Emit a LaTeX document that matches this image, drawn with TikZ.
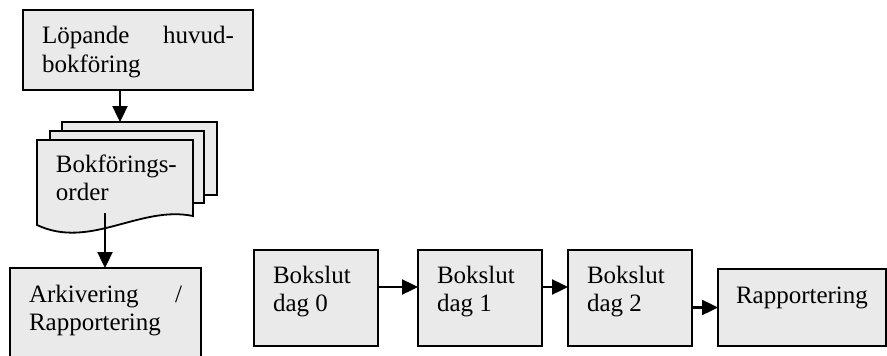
\documentclass[tikz,border=0pt]{standalone}
\usepackage{fontspec}
\setmainfont{Liberation Serif}
\usetikzlibrary{arrows.meta}
\definecolor{boxfill}{RGB}{234,234,234}
\newcommand{\bxt}[4]{\parbox[c][#1][t]{#2}{\vspace*{#3}\strut #4}}
\tikzset{
  bigfont/.style={font=\fontsize{25pt}{28.75pt}\selectfont},
  box/.style={draw=black, fill=boxfill, line width=1.8pt, anchor=north west,
    inner xsep=19pt, inner ysep=0pt, outer sep=0pt, bigfont},
  sheet/.style={draw=black, fill=boxfill, line width=1.8pt, anchor=north west,
    inner sep=0pt, outer sep=0pt},
  txt/.style={anchor=base west, inner sep=0pt, outer sep=0pt, bigfont},
  arr/.style={line width=2.4pt, -{Triangle[length=16pt,width=15pt]}},
}
\begin{document}
\begin{tikzpicture}[x=1pt,y=-1pt]
\useasboundingbox (0,0) rectangle (887,356);
% top box
\node[box] (lop) at (23,10) {\bxt{80pt}{192pt}{13.4pt}{Löpande\hfill huvud-\\bokföring}};
% document stack
\node[sheet, minimum width=155pt, minimum height=73pt] (s3) at (62,122) {};
\node[sheet, minimum width=154pt, minimum height=72pt] (s2) at (50,131) {};
\draw[line width=1.8pt, fill=boxfill] (37,140) -- (193,140) -- (193,216)
  .. controls (140,205) and (90,250) .. (37,225) -- cycle;
\node[txt] (doc) at (56,172) {\parbox[t]{130pt}{Bokförings-\\order}};
\coordinate (docout) at (105,213);
% archive box
\node[box] (ark) at (10,268) {\bxt{100pt}{153pt}{13.9pt}{Arkivering\hfill /\\\mbox{Rapportering}}};
% bottom row
\node[box] (b0) at (254,250) {\bxt{96pt}{86pt}{12.9pt}{Bokslut\\dag 0}};
\node[box] (b1) at (418,250) {\bxt{96pt}{86pt}{12.9pt}{Bokslut\\dag 1}};
\node[box] (b2) at (568,250) {\bxt{96pt}{86pt}{12.9pt}{Bokslut\\dag 2}};
\node[box, inner xsep=18pt] (r) at (718,269) {\bxt{77pt}{132pt}{13.9pt}{\mbox{Rapportering}}};
% arrows
\draw[arr] ([xshift=-18pt]lop.south) -- ([xshift=-18pt]lop.south |- s3.north);
\draw[arr] (docout) -- (docout |- ark.north);
\draw[arr] ([yshift=11pt]b0.east) -- ([yshift=11pt]b1.west);
\draw[arr] ([yshift=11pt]b1.east) -- ([yshift=11pt]b2.west);
\draw[arr] (b2.east |- r.west) -- (r.west);
\end{tikzpicture}
\end{document}
